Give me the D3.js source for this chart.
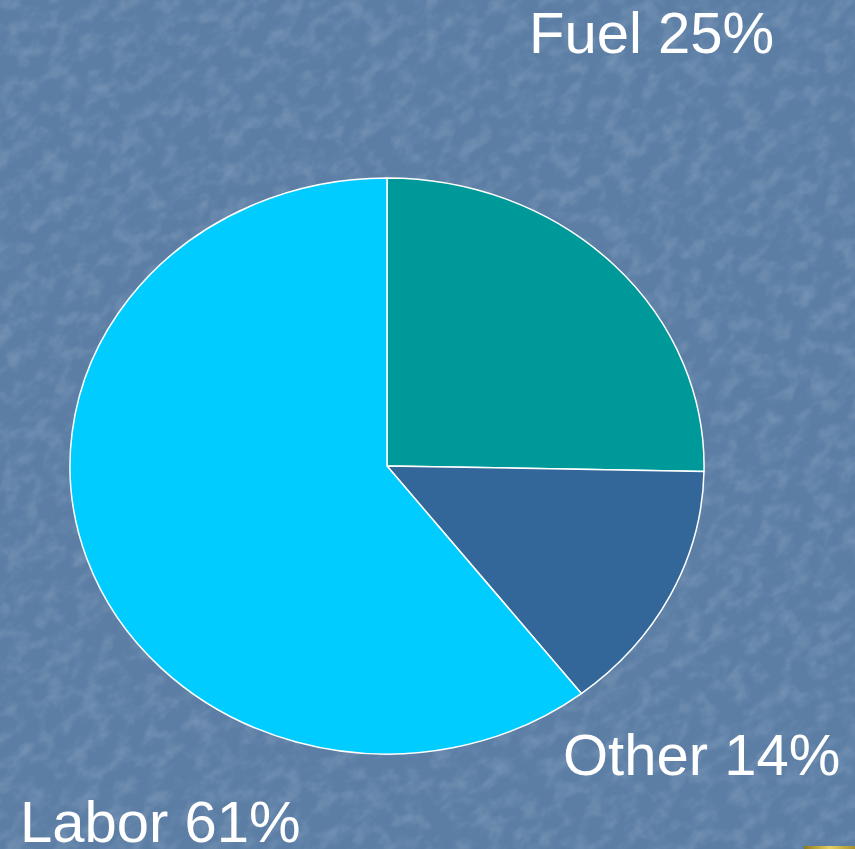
<!DOCTYPE html>
<html>
<head>
<meta charset="utf-8">
<script src="https://cdn.jsdelivr.net/npm/d3@7"></script>
<style>
html,body{margin:0;padding:0;overflow:hidden;background:#5d7fa6;}
svg{display:block;}
</style>
</head>
<body>
<script>
const categories = ["Fuel", "Other", "Labor"];
const values = [25.3, 14.2, 60.5];
const labels = ["Fuel 25%", "Other 14%", "Labor 61%"];
const colors = ["#009999", "#336699", "#00ccff"];

const W = 855, H = 849;
const svg = d3.select("body").append("svg").attr("width", W).attr("height", H);

const defs = svg.append("defs");
const f = defs.append("filter").attr("id", "tex").attr("x", 0).attr("y", 0).attr("width", "100%").attr("height", "100%");
f.append("feTurbulence").attr("type", "fractalNoise").attr("baseFrequency", "0.05 0.07").attr("numOctaves", 3).attr("seed", 7).attr("result", "n");
f.append("feColorMatrix").attr("in", "n").attr("type", "matrix")
  .attr("values", "0 0 0 0 0.8  0 0 0 0 0.87  0 0 0 0 0.95  0 0 0 1.0 -0.42");
const g0 = defs.append("linearGradient").attr("id", "gold").attr("x1", 0).attr("x2", 1);
g0.append("stop").attr("offset", 0).attr("stop-color", "#8a7a20");
g0.append("stop").attr("offset", 0.5).attr("stop-color", "#e8d060");
g0.append("stop").attr("offset", 1).attr("stop-color", "#a89030");

svg.append("rect").attr("width", W).attr("height", H).attr("fill", "#5c7ea5");
svg.append("g").attr("transform", "rotate(-35 427 424)")
  .append("rect").attr("x", -400).attr("y", -400).attr("width", W + 800).attr("height", H + 800)
  .attr("filter", "url(#tex)").attr("opacity", 0.35);
svg.append("rect").attr("x", 804).attr("y", 846).attr("width", 51).attr("height", 3).attr("fill", "url(#gold)");

const cx = 387, cy = 466, rx = 317, ry = 288;
const pie = d3.pie().sort(null).value(d => d)(values);
const arc = d3.arc().innerRadius(0).outerRadius(1);

const g = svg.append("g").attr("transform", `translate(${cx},${cy}) scale(${rx},${ry})`);
g.selectAll("path").data(pie).join("path")
  .attr("d", arc)
  .attr("fill", (d, i) => colors[i])
  .attr("stroke", "#ffffff")
  .attr("stroke-width", 1.5)
  .attr("vector-effect", "non-scaling-stroke")
  .attr("stroke-linejoin", "round");

const labelPos = [[529, 53], [563, 775], [20, 842]];
svg.selectAll("text.lbl").data(labels).join("text")
  .attr("class", "lbl")
  .attr("x", (d, i) => labelPos[i][0])
  .attr("y", (d, i) => labelPos[i][1])
  .attr("fill", "#ffffff")
  .attr("font-family", "Liberation Sans, Arial, sans-serif")
  .attr("font-size", 58)
  .text(d => d);
</script>
</body>
</html>
